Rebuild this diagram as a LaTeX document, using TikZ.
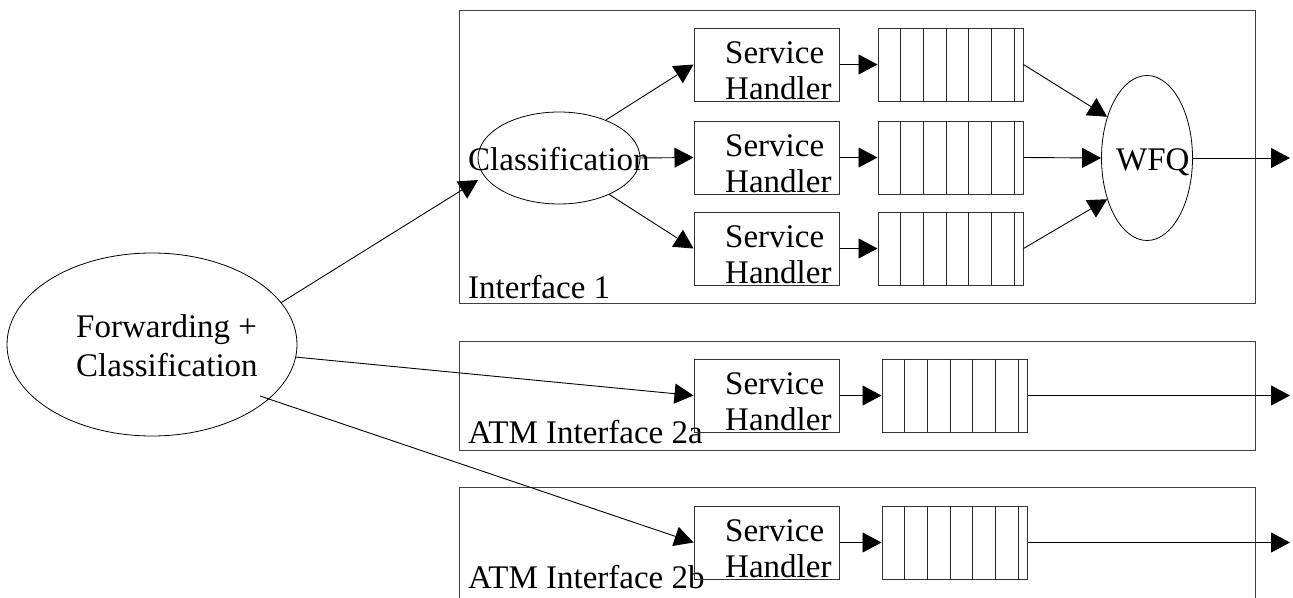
\documentclass[tikz,border=0pt]{standalone}
\usepackage{fontspec}
\setmainfont{Liberation Serif}
\usetikzlibrary{arrows.meta,shapes.geometric}
\tikzset{
  lbl/.style={inner sep=0pt, font=\fontsize{33}{37}\selectfont},
  frame/.style={draw=black!75, line width=1pt, inner sep=0pt, rectangle},
  handler/.style={draw=black!80, line width=1pt, inner sep=0pt, rectangle, minimum width=145pt, minimum height=73pt},
  qbox/.style={draw=black!80, line width=1pt, inner sep=0pt, rectangle, minimum width=145pt, minimum height=73pt},
  qline/.style={draw=black!85, line width=1pt},
  oval/.style={draw, line width=0.8pt, ellipse, inner sep=0pt},
  conn/.style={draw, line width=0.9pt, -{Triangle[length=19pt,width=20pt]}},
}
\newcommand\shbox[3]{%
  \node[handler] (#1) at ({#2+72.5},{#3+36.5}) {};
  \node[lbl,anchor=base west] (#1a) at ({#2+31},{#3+35}) {Service};
  \node[lbl,anchor=base west] (#1b) at ({#2+31},{#3+71}) {Handler};
}
\newcommand\fifobox[3]{%
  \node[qbox] (#1) at ({#2+72.5},{#3+36.5}) {};
  \foreach \k in {1,...,6} {\draw[qline] ({#2+22.67*\k},#3) -- ++(0,73);}
}
\begin{document}
\begin{tikzpicture}[x=1pt,y=-1pt]
\useasboundingbox (0,0) rectangle (1293,597);
\clip (0,0) rectangle (1293,597);
% interface frames
\node[frame, minimum width=796pt, minimum height=293pt] (if1) at (857,156.5) {};
\node[frame, minimum width=796pt, minimum height=109pt] (if2a) at (857,395.5) {};
\node[frame, minimum width=796pt, minimum height=130pt] (if2b) at (857,552) {};
\node[lbl,anchor=base west] (if1l) at (468,298) {Interface 1};
\node[lbl,anchor=base west] (if2al) at (468,443) {ATM Interface 2a};
\node[lbl,anchor=base west] (if2bl) at (468,588) {ATM Interface 2b};
% forwarding ellipse
\node[oval, minimum width=290pt, minimum height=183pt] (fwd) at (152,344.5) {};
\node[lbl,anchor=base west] (fwda) at (76,337) {Forwarding +};
\node[lbl,anchor=base west] (fwdb) at (76,376) {Classification};
% classification ellipse
\node[oval, minimum width=162pt, minimum height=92pt] (cls) at (559,158) {};
\node[lbl,anchor=base west] (clst) at (468,170) {Classification};
% WFQ ellipse
\node[oval, minimum width=91pt, minimum height=165pt] (wfq) at (1147,158) {};
\node[lbl,anchor=base west] (wfqt) at (1116,170) {WFQ};
% service handlers
\shbox{sh1}{694}{28}
\shbox{sh2}{694}{121}
\shbox{sh3}{694}{212}
\shbox{sh4}{694}{359}
\shbox{sh5}{694}{506}
% queues
\fifobox{q1}{878}{28}
\fifobox{q2}{878}{121}
\fifobox{q3}{878}{212}
\fifobox{q4}{882}{359}
\fifobox{q5}{882}{506}
% outputs
\coordinate (o1) at (1290,158);
\coordinate (o2) at (1290,395.5);
\coordinate (o3) at (1290,542.5);
\coordinate (f3) at (260,396);
\coordinate (clsin) at (478,180);
% connectors
\draw[conn] (fwd.18.6) -- (clsin);
\draw[conn] (fwd.355) -- (sh4.west);
\draw[conn] (f3) -- (sh5.west);
\draw[conn] (cls.39.6) -- (sh1.west);
\draw[conn] (cls.east) -- (sh2.west);
\draw[conn] (cls.-36) -- (sh3.west);
\foreach \i in {1,...,5} {\draw[conn] (sh\i.east) -- (q\i.west);}
\draw[conn] (q1.east) -- (wfq.134);
\draw[conn] (q2.east) -- (wfq.west);
\draw[conn] (q3.east) -- (wfq.226);
\draw[conn] (wfq.east) -- (o1);
\draw[conn] (q4.east) -- (o2);
\draw[conn] (q5.east) -- (o3);
\end{tikzpicture}
\end{document}
